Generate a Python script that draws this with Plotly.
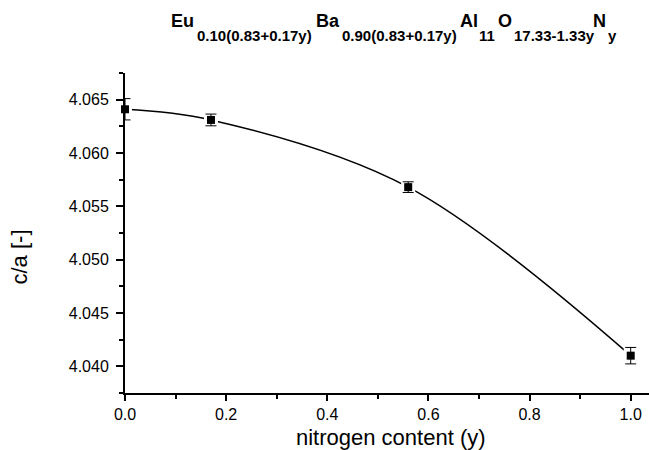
import plotly.graph_objects as go

# ---- data ----
nitrogen = [0.0, 0.17, 0.56, 1.0]
ca_ratio = [4.0641, 4.0631, 4.0568, 4.0410]
ca_error = [0.0010, 0.00055, 0.0005, 0.00077]

x_ticks = [0.0, 0.2, 0.4, 0.6, 0.8, 1.0]
y_ticks = [4.040, 4.045, 4.050, 4.055, 4.060, 4.065]

W, H = 649, 450
L, R, T, B = 125, 0, 73, 57
PW, PH = W - L - R, H - T - B

def px_x(p):
    return (p - L) / PW

def px_y(p):
    return (H - B - p) / PH

FONT = "Arial, Liberation Sans, sans-serif"

fig = go.Figure()

# smooth connecting curve
fig.add_trace(go.Scatter(
    x=nitrogen, y=ca_ratio, mode="lines",
    line=dict(color="black", width=1.5, shape="spline", smoothing=1.0),
    hoverinfo="skip", showlegend=False))

# white gap around each symbol
fig.add_trace(go.Scatter(
    x=nitrogen, y=ca_ratio, mode="markers",
    marker=dict(symbol="square", size=14, color="white", line=dict(width=0)),
    hoverinfo="skip", showlegend=False))

# data symbols with error bars
fig.add_trace(go.Scatter(
    x=nitrogen, y=ca_ratio, mode="markers",
    marker=dict(symbol="square", size=8, color="black", line=dict(width=0)),
    error_y=dict(type="data", array=ca_error, visible=True,
                 color="black", thickness=1, width=5.5),
    cliponaxis=False, showlegend=False))

axis_common = dict(
    showline=True, linecolor="black", linewidth=2,
    ticks="outside", tickcolor="black", tickwidth=1.5,
    showgrid=False, zeroline=False, mirror=False,
    tickfont=dict(family=FONT, size=16, color="black"),
)

fig.update_xaxes(
    range=[0, PW / 505.7], tickvals=x_ticks, tickformat=".1f", ticklen=6,
    minor=dict(dtick=0.1, tick0=0, ticks="outside", ticklen=4,
               tickcolor="black", tickwidth=1.5),
    **axis_common)
fig.update_yaxes(
    range=[4.0375, 4.0675], tickvals=y_ticks, tickformat=".3f", ticklen=7,
    ticklabelstandoff=4,
    minor=dict(dtick=0.0025, tick0=4.0375, ticks="outside", ticklen=4,
               tickcolor="black", tickwidth=1.5),
    **axis_common)

annotations = []
# chemical formula title, pieces placed individually (main text + subscripts)
title_parts = [
    ("Eu", 170, False), ("0.10(0.83+0.17y)", 196, True),
    ("Ba", 315, False), ("0.90(0.83+0.17y)", 340.5, True),
    ("Al", 459, False), ("11", 478, True),
    ("O", 497, False), ("17.33-1.33y", 513, True),
    ("N", 592, False), ("y", 607, True),
]
for txt, left, is_sub in title_parts:
    annotations.append(dict(
        text=f"<b>{txt}</b>", xref="paper", yref="paper",
        x=px_x(left - 1), y=px_y(35.3 if is_sub else 21),
        xanchor="left", yanchor="middle", showarrow=False,
        font=dict(family=FONT, size=15 if is_sub else 18, color="black")))

annotations.append(dict(
    text="nitrogen content (y)", xref="paper", yref="paper",
    x=px_x(391), y=px_y(437.5), xanchor="center", yanchor="middle",
    showarrow=False, font=dict(family=FONT, size=22, color="black")))
annotations.append(dict(
    text="c/a [-]", xref="paper", yref="paper", textangle=-90,
    x=px_x(18.5), y=px_y(257), xanchor="center", yanchor="middle",
    showarrow=False, font=dict(family=FONT, size=22, color="black")))

fig.update_layout(
    width=W, height=H,
    margin=dict(l=L, r=R, t=T, b=B, pad=0),
    paper_bgcolor="white", plot_bgcolor="white",
    annotations=annotations, showlegend=False,
)

fig.write_html("out.html")
